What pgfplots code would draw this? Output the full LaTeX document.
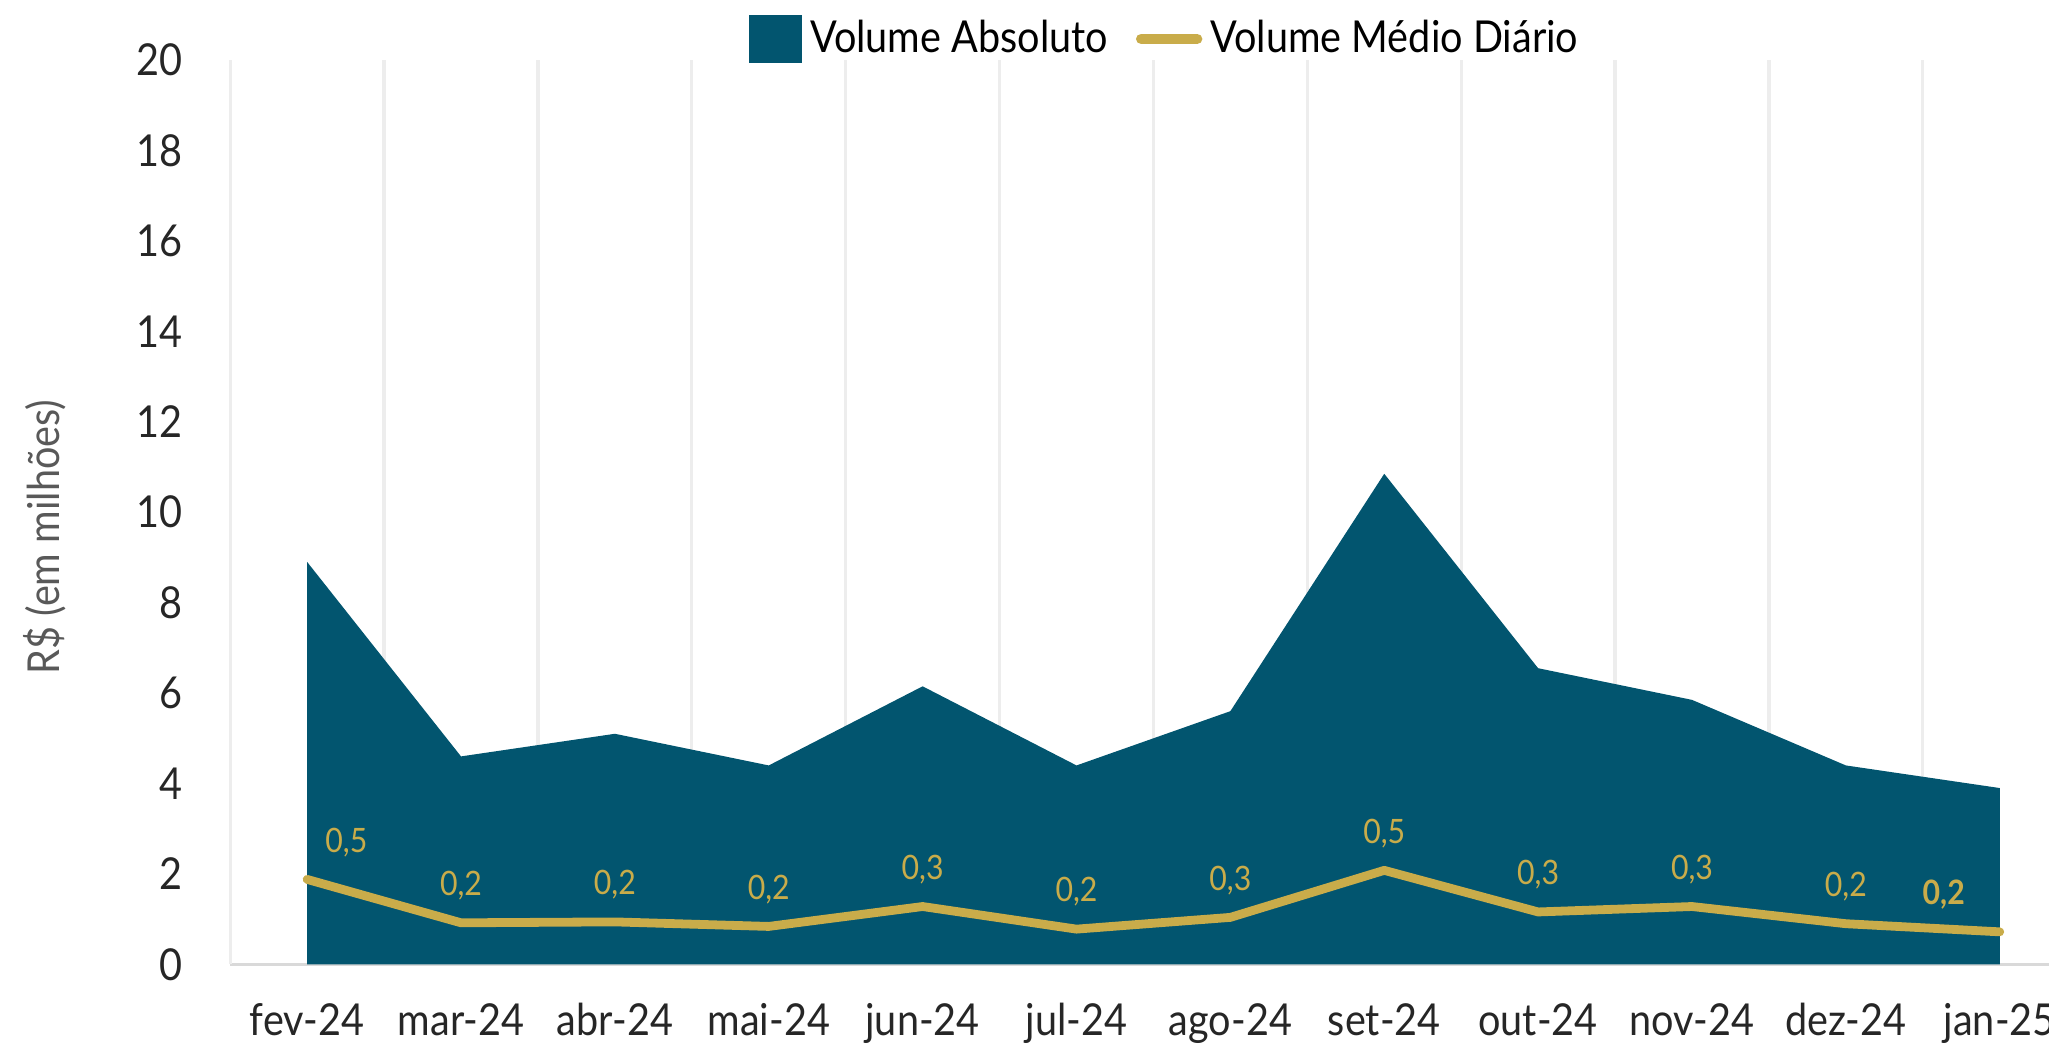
\documentclass[border=0pt]{standalone}
\usepackage{pgfplots}
\pgfplotsset{compat=1.18}
\usepackage{pgfplotstable}
\usepackage{fontspec}
\setmainfont{Lato}[FakeStretch=0.9]
\definecolor{teal1}{HTML}{02556F}
\definecolor{gold1}{HTML}{C9AC4A}
\definecolor{gridc}{HTML}{EDEDED}
\definecolor{axc}{HTML}{D9D9D9}
\definecolor{txt}{HTML}{262626}
\definecolor{ylab}{HTML}{595959}

\pgfplotstableread{
x vol
0 8.9
1 4.6
2 5.1
3 4.4
4 6.15
5 4.4
6 5.6
7 10.85
8 6.55
9 5.85
10 4.4
11 3.9
}\absdata

\pgfplotstableread{
x med label dx
0 0.47 0,5 9.8
1 0.23 0,2 0
2 0.235 0,2 0
3 0.21 0,2 0
4 0.32 0,3 0
5 0.195 0,2 0
6 0.26 0,3 0
7 0.52 0,5 0
8 0.29 0,3 0
9 0.32 0,3 0
10 0.225 0,2 0
11 0.18 {\textbf{0,2}} -14
}\meddata

\begin{document}
\begin{tikzpicture}
\useasboundingbox (-57.55pt,-19.65pt) rectangle (454.7pt,241.1pt);
\pgfplotsset{
  base/.style={width=454.7pt, height=226.1pt, scale only axis, at={(0,0)}, anchor=south west,
    xmin=-0.5, xmax=11.32, ymin=0},
}
\begin{axis}[base, ymax=20,
  ytick={0,2,...,20},
  xtick={0,...,11},
  xticklabels={fev-24,mar-24,abr-24,mai-24,jun-24,jul-24,ago-24,set-24,out-24,nov-24,dez-24,jan-25},
  axis x line*=bottom, axis y line*=left,
  x axis line style={draw=axc, line width=0.8pt, -},
  y axis line style={draw=gridc, line width=0.8pt, -},
  major tick length=0pt, minor tick length=0pt,
  minor xtick={0.5,1.5,...,10.5},
  xminorgrids,
  minor grid style={draw=gridc, line width=0.8pt},
  /pgf/number format/assume math mode=true,
  ticklabel style={font=\fontsize{11}{13}\selectfont, color=txt},
  yticklabel style={anchor=east, inner sep=0pt, xshift=-11.8pt},
  xticklabel style={anchor=base, inner sep=0pt, yshift=-17.65pt},
  ylabel={R\$ (em milhões)},
  every axis y label/.style={at={(rel axis cs:-0.102,0.4726)}, rotate=90, anchor=center,
    font=\fontsize{11}{13}\selectfont, color=ylab},
]
\addplot[fill=teal1, draw=none] table[x=x, y=vol] {\absdata} \closedcycle;
\end{axis}
\begin{axis}[base, ymax=5, hide axis,
  legend style={at={(rel axis cs:0.5153,1.0233)}, anchor=center, draw=none, fill=none,
    legend columns=-1, font=\fontsize{11}{13}\selectfont, inner sep=0pt,
    /tikz/every even column/.append style={column sep=5pt}},
]
\addlegendimage{legend image code/.code={\fill[teal1] (0pt,-5.9pt) rectangle (13pt,5.9pt);}}
\addlegendentry{Volume Absoluto}
\addplot[gold1, line width=2.2pt, line join=round, line cap=round,
  legend image code/.code={\draw[gold1, line width=2.6pt, line cap=round] (0pt,0pt) -- (14pt,0pt);},
  nodes near coords, point meta=explicit symbolic,
  visualization depends on={\thisrow{dx} \as \dx},
  every node near coord/.append style={font=\fontsize{8.4}{10}\selectfont, color=gold1,
    anchor=base, inner sep=0pt, xshift=\dx pt, yshift=6.8pt},
] table[x=x, y=med, meta=label] {\meddata};
\addlegendentry{Volume Médio Diário}
\end{axis}
\end{tikzpicture}
\end{document}
